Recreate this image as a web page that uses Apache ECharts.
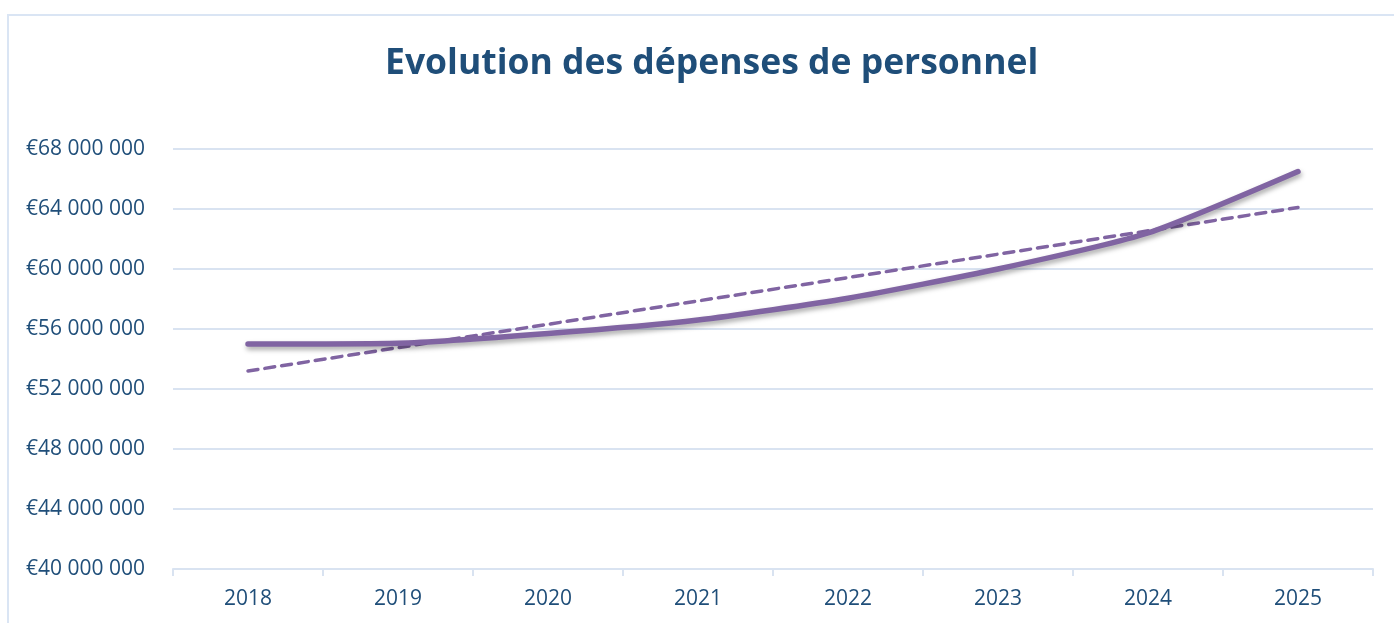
<!DOCTYPE html>
<html>
<head>
<meta charset="utf-8">
<script src="https://cdn.jsdelivr.net/npm/echarts@6/dist/echarts.min.js"></script>
<style>
  html, body { margin: 0; padding: 0; background: #fff; }
  #frame { position: absolute; left: 7px; top: 14px; width: 1400px; height: 620px;
           border-left: 2px solid #dae5f4; border-top: 2px solid #dae5f4; }
  #chart { position: absolute; left: 0; top: 0; width: 1394px; height: 623px; }
</style>
</head>
<body>
<div id="frame"></div>
<div id="chart"></div>
<script>
const years = ["2018", "2019", "2020", "2021", "2022", "2023", "2024", "2025"];
const depenses = [55000000, 55050000, 55700000, 56600000, 58050000, 60000000, 62400000, 66500000];
// linear trend, endpoints
const tendance = [53200000, null, null, null, null, null, null, 64100000];
const yMin = 40000000;
const yMax = 68000000;
const yStep = 4000000;

const chart = echarts.init(document.getElementById("chart"));
const fmt = (v) => "€" + String(v).replace(/\B(?=(\d{3})+(?!\d))/g, " ");

chart.setOption({
  animation: false,
  title: {
    text: "Evolution des dépenses de personnel",
    left: 380,
    top: 41,
    textStyle: { color: "#1f4e79", fontSize: 35.5, fontWeight: "bold", fontFamily: "Open Sans" },
  },
  grid: { left: 173, right: 21, top: 149, bottom: 54 },
  xAxis: {
    type: "category",
    data: years,
    boundaryGap: true,
    axisLine: { lineStyle: { color: "#d9e3f1", width: 2 } },
    axisTick: { show: true, length: 7, lineStyle: { color: "#d9e3f1", width: 2 } },
    axisLabel: { color: "#1f4e79", fontSize: 21, fontFamily: "Open Sans", margin: 20 },
  },
  yAxis: {
    type: "value",
    min: yMin,
    max: yMax,
    interval: yStep,
    axisLine: { show: false },
    axisTick: { show: false },
    axisLabel: { color: "#1f4e79", fontSize: 21, fontFamily: "Open Sans", margin: 28, formatter: fmt },
    splitLine: { lineStyle: { color: "#d9e3f1", width: 2 } },
  },
  series: [
    {
      name: "Dépenses",
      type: "line",
      data: depenses,
      smooth: 0.2,
      showSymbol: false,
      lineStyle: {
        color: "#8064a2", width: 5.5, cap: "round",
        shadowColor: "rgba(0,0,0,0.35)", shadowBlur: 5, shadowOffsetY: 3, shadowOffsetX: 1,
      },
      z: 3,
    },
    {
      name: "Tendance",
      type: "line",
      data: tendance,
      connectNulls: true,
      showSymbol: false,
      lineStyle: { color: "#8064a2", width: 3.5, type: [10, 7], cap: "round" },
      z: 2,
    },
  ],
});
</script>
</body>
</html>
